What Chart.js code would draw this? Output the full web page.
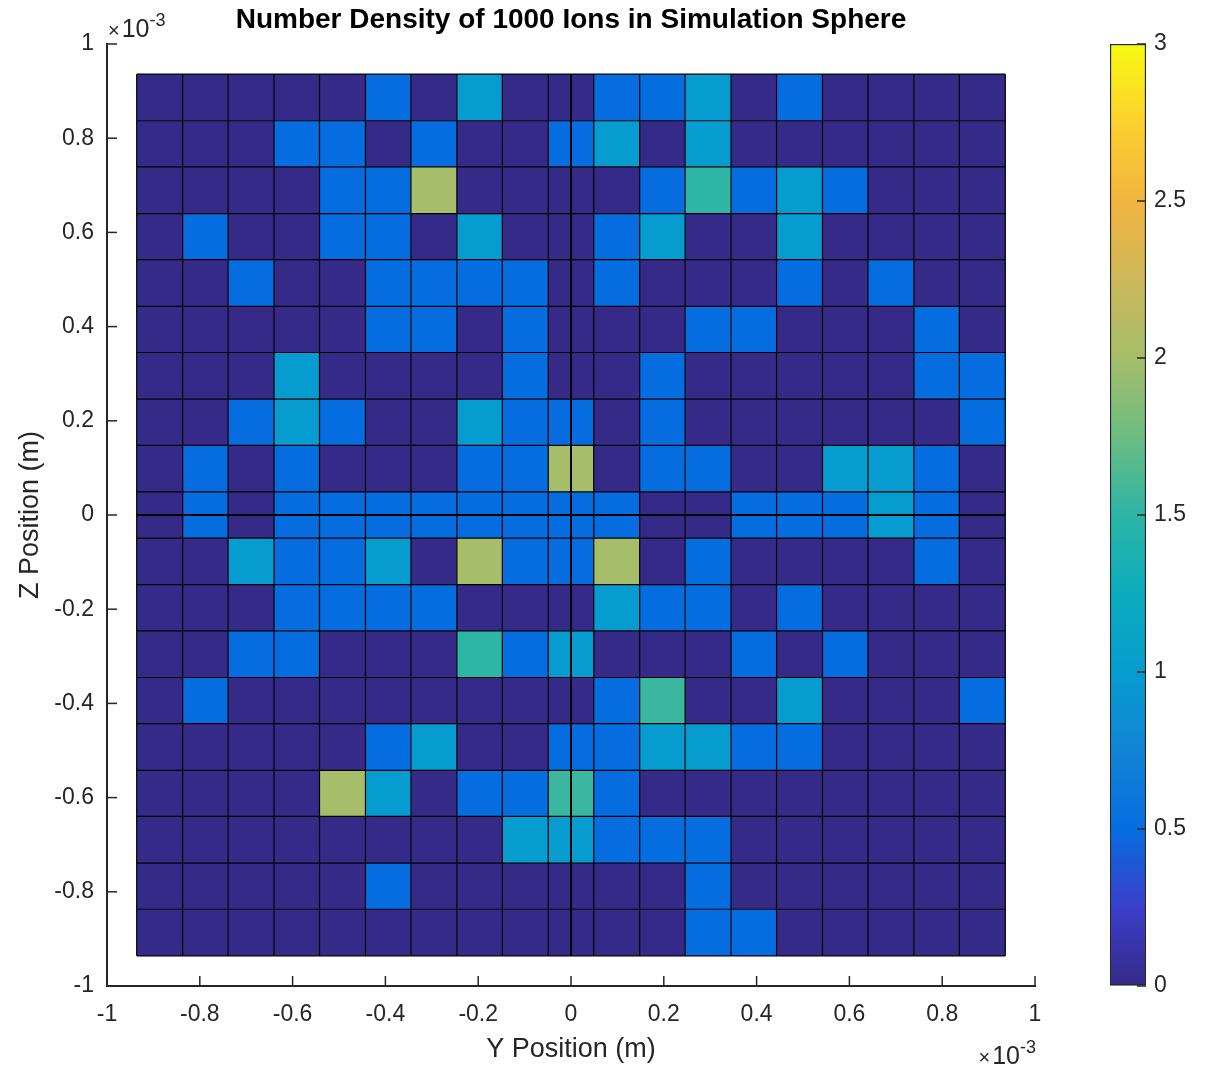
<!DOCTYPE html>
<html>
<head>
<meta charset="utf-8">
<title>Number Density of 1000 Ions in Simulation Sphere</title>
<script src="https://cdn.jsdelivr.net/npm/chart.js@4.4.0/dist/chart.umd.min.js"></script>
<style>
    html, body { margin: 0; padding: 0; background: #fff; }
    #wrap { position: relative; width: 1207px; height: 1069px; }
    #mapChart { position: absolute; left: 0; top: 0; }
    #barChart { position: absolute; left: 1080px; top: 0; }
</style>
</head>
<body>
<div id="wrap">
    <canvas id="mapChart" width="1207" height="1069"></canvas>
    <canvas id="barChart" width="127" height="1069"></canvas>
</div>
<script>
// bin edges (m) along Y (horizontal) and Z (vertical, listed top to bottom)
const yEdges = [-9.36e-4, -8.37e-4, -7.39e-4, -6.40e-4, -5.42e-4, -4.43e-4, -3.45e-4, -2.46e-4, -1.48e-4, -4.9e-5, 0,
                4.9e-5, 1.48e-4, 2.46e-4, 3.45e-4, 4.43e-4, 5.42e-4, 6.40e-4, 7.39e-4, 8.37e-4, 9.36e-4];
const zEdges = [9.36e-4, 8.37e-4, 7.39e-4, 6.40e-4, 5.42e-4, 4.43e-4, 3.45e-4, 2.46e-4, 1.48e-4, 4.9e-5, 0,
                -4.9e-5, -1.48e-4, -2.46e-4, -3.45e-4, -4.43e-4, -5.42e-4, -6.40e-4, -7.39e-4, -8.37e-4, -9.36e-4];

// number density per cell, one row per Z bin (top row first)
const density = [
    [0, 0, 0, 0, 0, 0.5, 0, 1, 0, 0,      0, 0.5, 0.5, 1, 0, 0.5, 0, 0, 0, 0],
    [0, 0, 0, 0.5, 0.5, 0, 0.5, 0, 0, 0.5,  0.5, 1, 0, 1, 0, 0, 0, 0, 0, 0],
    [0, 0, 0, 0, 0.5, 0.5, 2, 0, 0, 0,    0, 0, 0.5, 1.5, 0.5, 1, 0.5, 0, 0, 0],
    [0, 0.5, 0, 0, 0.5, 0.5, 0, 1, 0, 0,  0, 0.5, 1, 0, 0, 1, 0, 0, 0, 0],
    [0, 0, 0.5, 0, 0, 0.5, 0.5, 0.5, 0.5, 0,  0, 0.5, 0, 0, 0, 0.5, 0, 0.5, 0, 0],
    [0, 0, 0, 0, 0, 0.5, 0.5, 0, 0.5, 0,  0, 0, 0, 0.5, 0.5, 0, 0, 0, 0.5, 0],
    [0, 0, 0, 1, 0, 0, 0, 0, 0.5, 0,      0, 0, 0.5, 0, 0, 0, 0, 0, 0.5, 0.5],
    [0, 0, 0.5, 1, 0.5, 0, 0, 1, 0.5, 0.5,  0.5, 0, 0.5, 0, 0, 0, 0, 0, 0, 0.5],
    [0, 0.5, 0, 0.5, 0, 0, 0, 0.5, 0.5, 2,  2, 0, 0.5, 0.5, 0, 0, 1, 1, 0.5, 0],
    [0, 0.5, 0, 0.5, 0.5, 0.5, 0.5, 0.5, 0.5, 0.5,  0.5, 0.5, 0, 0, 0.5, 0.5, 0.5, 1, 0.5, 0],
    [0, 0.5, 0, 0.5, 0.5, 0.5, 0.5, 0.5, 0.5, 0.5,  0.5, 0.5, 0, 0, 0.5, 0.5, 0.5, 1, 0.5, 0],
    [0, 0, 1, 0.5, 0.5, 1, 0, 2, 0.5, 0.5,  0.5, 2, 0, 0.5, 0, 0, 0, 0, 0.5, 0],
    [0, 0, 0, 0.5, 0.5, 0.5, 0.5, 0, 0, 0,  0, 1, 0.5, 0.5, 0, 0.5, 0, 0, 0, 0],
    [0, 0, 0.5, 0.5, 0, 0, 0, 1.5, 0.5, 1,  1, 0, 0, 0, 0.5, 0, 0.5, 0, 0, 0],
    [0, 0.5, 0, 0, 0, 0, 0, 0, 0, 0,      0, 0.5, 1.55, 0, 0, 1, 0, 0, 0, 0.5],
    [0, 0, 0, 0, 0, 0.5, 1, 0, 0, 0.5,    0.5, 0.5, 1, 1, 0.5, 0.5, 0, 0, 0, 0],
    [0, 0, 0, 0, 2, 1, 0, 0.5, 0.5, 1.55,  1.55, 0.5, 0, 0, 0, 0, 0, 0, 0, 0],
    [0, 0, 0, 0, 0, 0, 0, 0, 1, 1,        1, 0.5, 0.5, 0.5, 0, 0, 0, 0, 0, 0],
    [0, 0, 0, 0, 0, 0.5, 0, 0, 0, 0,      0, 0, 0, 0.5, 0, 0, 0, 0, 0, 0],
    [0, 0, 0, 0, 0, 0, 0, 0, 0, 0,        0, 0, 0, 0.5, 0.5, 0, 0, 0, 0, 0]
];

// colour map (sampled from the colour bar) and its ticks
const cmapStops = [0, 0.25, 0.5, 0.75, 1.0, 1.25, 1.5, 1.75, 2.0, 2.25, 2.5, 2.75, 3.0];
const cmapColors = ['#352a87', '#3a3ec9', '#056de0', '#1284d5', '#069ccf', '#0cabbd', '#2db5a5',
                    '#6cbd83', '#a6bd6a', '#cdb85a', '#f2b440', '#fcd02f', '#f7fa10'];
const axisTicks = [-1e-3, 1e-3, 2e-4];   // min, max, step
const barTicks = [0, 3, 0.5];

const FONT = '"Liberation Sans", Arial, Helvetica, sans-serif';
const INK = '#262626';

function hexToRgb(h) {
    return [parseInt(h.slice(1, 3), 16), parseInt(h.slice(3, 5), 16), parseInt(h.slice(5, 7), 16)];
}

function colorFor(v) {
    if (v <= cmapStops[0]) return cmapColors[0];
    for (let i = 1; i < cmapStops.length; i++) {
        if (v <= cmapStops[i]) {
            const t = (v - cmapStops[i - 1]) / (cmapStops[i] - cmapStops[i - 1]);
            const a = hexToRgb(cmapColors[i - 1]), b = hexToRgb(cmapColors[i]);
            const c = a.map((x, k) => Math.round(x + (b[k] - x) * t));
            return `rgb(${c[0]},${c[1]},${c[2]})`;
        }
    }
    return cmapColors[cmapColors.length - 1];
}

const fmtMilli = v => String(+(v * 1e3).toFixed(1));

// cells + cell borders
const heatmapPlugin = {
    id: 'heatmap',
    beforeDatasetsDraw(chart) {
        const { ctx, scales: { x, y } } = chart;
        ctx.save();
        density.forEach((row, i) => {
            const top = y.getPixelForValue(zEdges[i]);
            const bottom = y.getPixelForValue(zEdges[i + 1]);
            row.forEach((v, j) => {
                const left = x.getPixelForValue(yEdges[j]);
                const right = x.getPixelForValue(yEdges[j + 1]);
                ctx.fillStyle = colorFor(v);
                ctx.fillRect(left, top, right - left, bottom - top);
            });
        });
        const yTop = y.getPixelForValue(zEdges[0]);
        const yBot = y.getPixelForValue(zEdges[zEdges.length - 1]);
        const xL = x.getPixelForValue(yEdges[0]);
        const xR = x.getPixelForValue(yEdges[yEdges.length - 1]);
        ctx.strokeStyle = '#000';
        yEdges.forEach(e => {
            const px = x.getPixelForValue(e);
            ctx.lineWidth = e === 0 ? 2 : 1.2;
            ctx.beginPath(); ctx.moveTo(px, yTop); ctx.lineTo(px, yBot); ctx.stroke();
        });
        zEdges.forEach(e => {
            const py = y.getPixelForValue(e);
            ctx.lineWidth = e === 0 ? 2 : 1.2;
            ctx.beginPath(); ctx.moveTo(xL, py); ctx.lineTo(xR, py); ctx.stroke();
        });
        ctx.restore();
    },
    afterDraw(chart) {
        const { ctx, chartArea: a, scales: { x, y } } = chart;
        ctx.save();
        // inward tick marks
        ctx.strokeStyle = INK;
        ctx.lineWidth = 1.5;
        x.ticks.forEach(t => {
            const px = x.getPixelForValue(t.value);
            ctx.beginPath(); ctx.moveTo(px, a.bottom); ctx.lineTo(px, a.bottom - 10); ctx.stroke();
        });
        y.ticks.forEach(t => {
            const py = y.getPixelForValue(t.value);
            ctx.beginPath(); ctx.moveTo(a.left, py); ctx.lineTo(a.left + 10, py); ctx.stroke();
        });
        // x10^-3 exponent labels
        ctx.fillStyle = INK;
        ctx.textBaseline = 'alphabetic';
        ctx.textAlign = 'left';
        const drawExp = (x0, base, alignRight) => {
            ctx.font = `20px ${FONT}`;
            const wx = ctx.measureText('\u00d7').width;
            ctx.font = `25px ${FONT}`;
            const w1 = ctx.measureText('10').width;
            ctx.font = `18px ${FONT}`;
            const w2 = ctx.measureText('-3').width;
            const start = alignRight ? x0 - wx - 2 - w1 - w2 : x0;
            ctx.font = `20px ${FONT}`;
            ctx.fillText('\u00d7', start, base);
            ctx.font = `25px ${FONT}`;
            ctx.fillText('10', start + wx + 2, base);
            ctx.font = `18px ${FONT}`;
            ctx.fillText('-3', start + wx + 2 + w1, base - 11);
        };
        drawExp(a.left + 1, a.top - 7, false);
        drawExp(a.right + 1, a.bottom + 78, true);
        ctx.restore();
    }
};

const mapChart = new Chart(document.getElementById('mapChart').getContext('2d'), {
    type: 'scatter',
    data: { datasets: [{ data: [], pointRadius: 0 }] },
    options: {
        responsive: false,
        animation: false,
        events: [],
        layout: { padding: { left: 0, right: 172, top: 0, bottom: 0 } },
        plugins: {
            legend: { display: false },
            tooltip: { enabled: false },
            title: {
                display: true,
                fullSize: false,
                text: 'Number Density of 1000 Ions in Simulation Sphere',
                color: '#000',
                font: { family: FONT, size: 28, weight: 'bold' },
                padding: { top: 3, bottom: 7.4 }
            }
        },
        scales: {
            x: {
                type: 'linear',
                min: axisTicks[0], max: axisTicks[1],
                ticks: { stepSize: axisTicks[2], callback: fmtMilli, color: INK, padding: 15,
                         font: { family: FONT, size: 23 }, maxRotation: 0 },
                grid: { drawOnChartArea: false, drawTicks: false },
                border: { display: true, color: INK, width: 2 },
                title: { display: true, text: 'Y Position (m)', color: INK,
                         font: { family: FONT, size: 27 }, padding: { top: 0, bottom: 3 } },
                afterFit: s => { s.height = 83; }
            },
            y: {
                type: 'linear',
                min: axisTicks[0], max: axisTicks[1],
                ticks: { stepSize: axisTicks[2], callback: fmtMilli, color: INK, padding: 13,
                         font: { family: FONT, size: 23 } },
                grid: { drawOnChartArea: false, drawTicks: false },
                border: { display: true, color: INK, width: 2 },
                title: { display: true, text: 'Z Position (m)', color: INK,
                         font: { family: FONT, size: 27 }, padding: { top: 14, bottom: 0 } },
                afterFit: s => { s.width = 107; }
            }
        }
    },
    plugins: [heatmapPlugin]
});

// colour bar: one floating bar spanning the colour range, filled with the map
const barTickPlugin = {
    id: 'barTicks',
    afterDraw(chart) {
        const { ctx, chartArea: a, scales: { y } } = chart;
        ctx.save();
        ctx.strokeStyle = INK;
        ctx.lineWidth = 1.5;
        y.ticks.forEach(t => {
            const py = y.getPixelForValue(t.value);
            ctx.beginPath(); ctx.moveTo(a.right, py); ctx.lineTo(a.right - 9, py); ctx.stroke();
        });
        ctx.restore();
    }
};

const barChart = new Chart(document.getElementById('barChart').getContext('2d'), {
    type: 'bar',
    data: {
        labels: [''],
        datasets: [{
            data: [[barTicks[0], barTicks[1]]],
            backgroundColor: context => {
                const chart = context.chart;
                const y = chart.scales.y;
                if (!chart.chartArea || !y) return cmapColors[0];
                const g = chart.ctx.createLinearGradient(0, y.getPixelForValue(barTicks[0]), 0, y.getPixelForValue(barTicks[1]));
                cmapStops.forEach((s, i) => g.addColorStop((s - barTicks[0]) / (barTicks[1] - barTicks[0]), cmapColors[i]));
                return g;
            },
            borderColor: INK,
            borderWidth: 1.5,
            borderSkipped: false,
            barPercentage: 1,
            categoryPercentage: 1
        }]
    },
    options: {
        responsive: false,
        animation: false,
        events: [],
        layout: { padding: { left: 30, right: 0, top: 44, bottom: 83 } },
        plugins: { legend: { display: false }, tooltip: { enabled: false } },
        scales: {
            x: { display: false },
            y: {
                position: 'right',
                min: barTicks[0], max: barTicks[1],
                ticks: { stepSize: barTicks[2], color: INK, padding: 8, font: { family: FONT, size: 23 },
                         callback: v => String(v) },
                grid: { drawOnChartArea: false, drawTicks: false },
                border: { display: false },
                afterFit: s => { s.width = 61; }
            }
        }
    },
    plugins: [barTickPlugin]
});
</script>
</body>
</html>
